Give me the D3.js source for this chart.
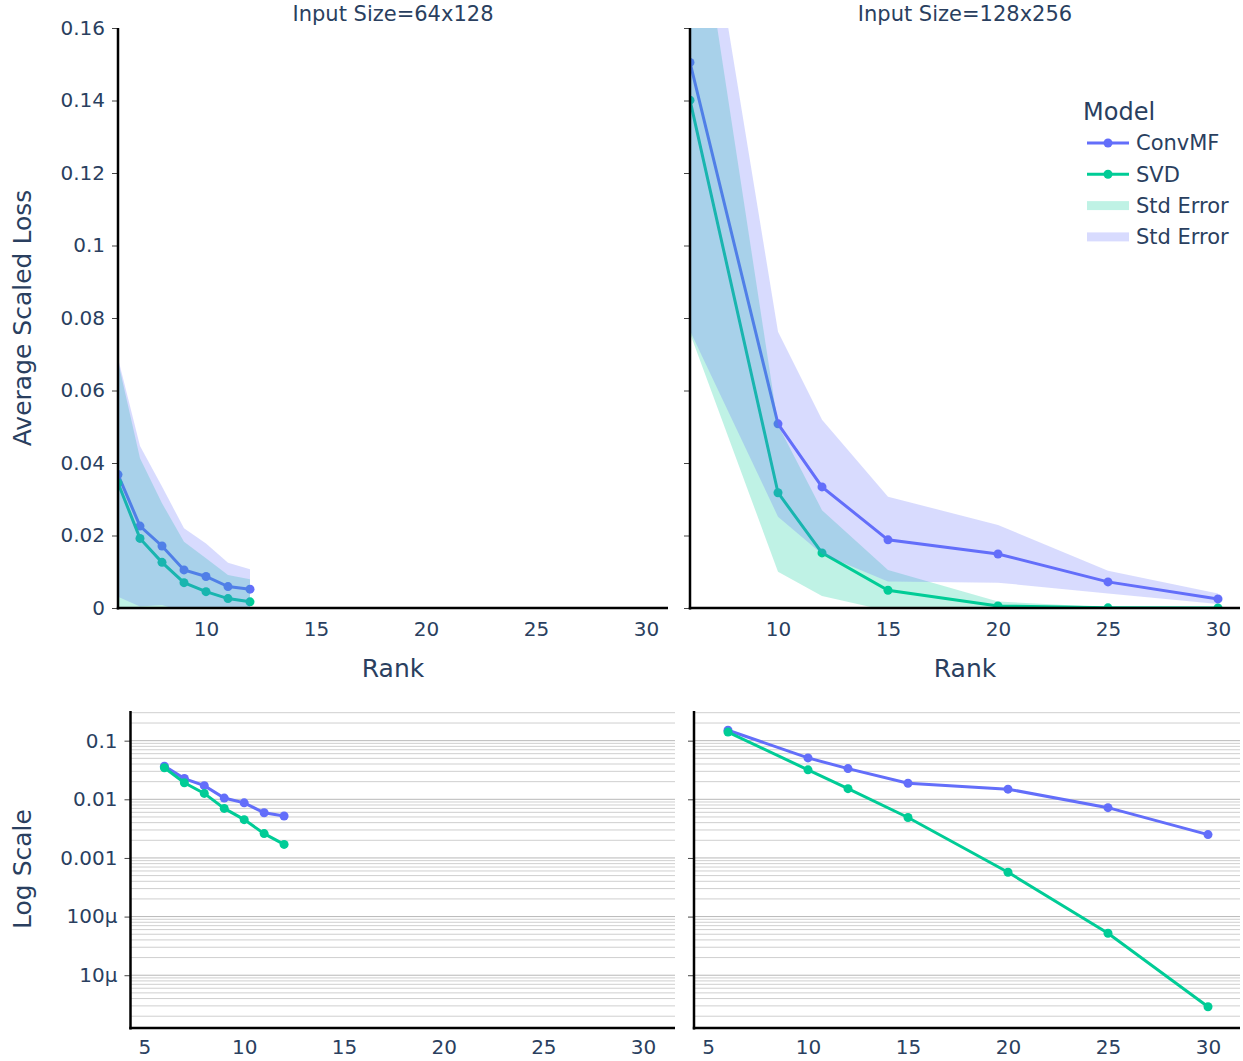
<!DOCTYPE html>
<html>
<head>
<meta charset="utf-8">
<script src="https://cdn.jsdelivr.net/npm/d3@7"></script>
<style>
  body { margin: 0; background: #fff; }
  text { font-family: "DejaVu Sans", Verdana, sans-serif; fill: #2a3f5f; }
</style>
</head>
<body>
<div id="chart"></div>
<script>
// ---- data ----
var ranksSmall = [6, 7, 8, 9, 10, 11, 12];
var convSmall = [0.0368, 0.0226, 0.0171, 0.0105, 0.0087, 0.0059, 0.0052];
var svdSmall = [0.0345, 0.0192, 0.0126, 0.0070, 0.0045, 0.0026, 0.0017];
var convSmallHi = [0.0689, 0.0447, 0.0335, 0.0220, 0.0178, 0.0125, 0.0107];
var convSmallLo = [0.0031, 0.0004, 0.0008, -0.0010, -0.0004, -0.0007, -0.0003];
var svdSmallHi = [0.0680, 0.0413, 0.0289, 0.0183, 0.0137, 0.0091, 0.0079];
var svdSmallLo = [-0.0010, -0.0029, -0.0037, -0.0043, -0.0047, -0.0039, -0.0045];

var ranksBig = [6, 10, 12, 15, 20, 25, 30];
var convBig = [0.1505, 0.0508, 0.0334, 0.0188, 0.0149, 0.0072, 0.0025];
var svdBig = [0.1401, 0.0318, 0.0152, 0.0049, 0.00057, 0.000052, 0.0000029];
var convBigHi = [0.2245, 0.0762, 0.0519, 0.0307, 0.0229, 0.0103, 0.0040];
var convBigLo = [0.0765, 0.0252, 0.0149, 0.0073, 0.0070, 0.0040, 0.0011];
var svdBigHi = [0.2092, 0.0505, 0.0270, 0.0105, 0.0018, 0.0002, 0.00001];
var svdBigLo = [0.0758, 0.0100, 0.0033, -0.0008, -0.0006, -0.0001, -0.00001];

var panelTitles = ['Input Size=64x128', 'Input Size=128x256'];
var linTicks = [0, 0.02, 0.04, 0.06, 0.08, 0.1, 0.12, 0.14, 0.16];
var logTicks = [0.1, 0.01, 0.001, 0.0001, 0.00001];
var logTickLabels = ['0.1', '0.01', '0.001', '100\u03bc', '10\u03bc'];
var rankTicksTop = [10, 15, 20, 25, 30];
var rankTicksBottom = [5, 10, 15, 20, 25, 30];
var legendNames = ['ConvMF', 'SVD', 'Std Error', 'Std Error'];

var convColor = '#636efa',
  svdColor = '#00cc96',
  convFill = 'rgba(99,110,250,0.25)',
  svdFill = 'rgba(0,204,150,0.25)';

var tickFont = 20;

var svg = d3.select('#chart')
  .append('svg')
  .attr('width', 1243)
  .attr('height', 1061);

var topY = d3.scaleLinear().domain([0, 0.16]).range([608, 28]);
var bottomY = d3.scaleLog().domain([Math.pow(10, -5.9), Math.pow(10, -0.494)]).range([1028, 711]);

var panels = [
  { ranks: ranksSmall, conv: convSmall, svd: svdSmall, convHi: convSmallHi, convLo: convSmallLo, svdHi: svdSmallHi, svdLo: svdSmallLo,
    top: [118, 668], bottom: [130.5, 675], labels: true },
  { ranks: ranksBig, conv: convBig, svd: svdBig, convHi: convBigHi, convLo: convBigLo, svdHi: svdBigHi, svdLo: svdBigLo,
    top: [690, 1240], bottom: [694, 1240], labels: false }
];

var lineGen = function (x, y, ranks) {
  return d3.line()
    .x(function (d, i) { return x(ranks[i]); })
    .y(function (d) { return y(d); });
};

var bandGen = function (x, y, ranks, lo) {
  return d3.area()
    .x(function (d, i) { return x(ranks[i]); })
    .y0(function (d, i) { return y(lo[i]); })
    .y1(function (d) { return y(d); });
};

var styleAxis = function (g, fontSize) {
  g.selectAll('.domain').remove();
  g.selectAll('.tick line').attr('stroke', '#444').attr('stroke-width', 1);
  g.selectAll('.tick text')
    .attr('fill', '#2a3f5f')
    .style('font-size', fontSize + 'px')
    .style('font-family', '"DejaVu Sans", Verdana, sans-serif');
};

panels.forEach(function (p, pi) {
  // ---------- top linear panel ----------
  var x = d3.scaleLinear().domain([6, 31]).range(p.top);
  var clipId = 'clipTop' + pi;
  svg.append('clipPath').attr('id', clipId)
    .append('rect')
    .attr('x', p.top[0]).attr('y', 28)
    .attr('width', p.top[1] - p.top[0]).attr('height', 580);

  var plot = svg.append('g').attr('clip-path', 'url(#' + clipId + ')');

  [[p.conv, convColor], [p.svd, svdColor]].forEach(function (s) {
    plot.append('path')
      .attr('d', lineGen(x, topY, p.ranks)(s[0]))
      .attr('fill', 'none')
      .attr('stroke', s[1])
      .attr('stroke-width', 3);
    plot.append('g').selectAll('circle')
      .data(s[0])
      .enter()
      .append('circle')
      .attr('cx', function (d, i) { return x(p.ranks[i]); })
      .attr('cy', function (d) { return topY(d); })
      .attr('r', 4.5)
      .attr('fill', s[1]);
  });

  // bands are drawn over the lines, svd first then convmf
  plot.append('path')
    .attr('d', bandGen(x, topY, p.ranks, p.svdLo)(p.svdHi))
    .attr('fill', svdFill);
  plot.append('path')
    .attr('d', bandGen(x, topY, p.ranks, p.convLo)(p.convHi))
    .attr('fill', convFill);

  var yAx = svg.append('g')
    .attr('transform', 'translate(' + p.top[0] + ',0)')
    .call(d3.axisLeft(topY).tickValues(linTicks).tickSize(6).tickPadding(7)
      .tickFormat(p.labels ? d3.format('~g') : function () { return ''; }));
  styleAxis(yAx, tickFont);

  var xAx = svg.append('g')
    .attr('transform', 'translate(0,608)')
    .call(d3.axisBottom(x).tickValues(rankTicksTop).tickSize(0).tickPadding(14).tickFormat(d3.format('d')));
  styleAxis(xAx, tickFont);

  svg.append('line')
    .attr('x1', p.top[0]).attr('x2', p.top[0])
    .attr('y1', 28).attr('y2', 609.5)
    .attr('stroke', '#000').attr('stroke-width', 2.5);
  svg.append('line')
    .attr('x1', p.top[0] - 1.2).attr('x2', p.top[1])
    .attr('y1', 608).attr('y2', 608)
    .attr('stroke', '#000').attr('stroke-width', 2.5);

  svg.append('text')
    .attr('x', (p.top[0] + p.top[1]) / 2)
    .attr('y', 14)
    .attr('dy', '0.35em')
    .attr('text-anchor', 'middle')
    .style('font-size', '21px')
    .text(panelTitles[pi]);

  svg.append('text')
    .attr('x', (p.top[0] + p.top[1]) / 2)
    .attr('y', 668)
    .attr('dy', '0.35em')
    .attr('text-anchor', 'middle')
    .style('font-size', '25px')
    .text('Rank');

  // ---------- bottom log panel ----------
  var xb = d3.scaleLinear().domain([4.3, 31.6]).range(p.bottom);
  var grid = svg.append('g');
  for (var k = -6; k <= 0; k++) {
    for (var m = 1; m <= 9; m++) {
      var v = m * Math.pow(10, k);
      if (v < bottomY.domain()[0] || v > bottomY.domain()[1]) continue;
      grid.append('line')
        .attr('x1', p.bottom[0]).attr('x2', p.bottom[1])
        .attr('y1', bottomY(v)).attr('y2', bottomY(v))
        .attr('stroke', m === 1 ? '#b8b8b8' : '#cfcfcf')
        .attr('stroke-width', 1);
    }
  }

  var plotB = svg.append('g');
  [[p.conv, convColor], [p.svd, svdColor]].forEach(function (s) {
    plotB.append('path')
      .attr('d', lineGen(xb, bottomY, p.ranks)(s[0]))
      .attr('fill', 'none')
      .attr('stroke', s[1])
      .attr('stroke-width', 3);
    plotB.append('g').selectAll('circle')
      .data(s[0])
      .enter()
      .append('circle')
      .attr('cx', function (d, i) { return xb(p.ranks[i]); })
      .attr('cy', function (d) { return bottomY(d); })
      .attr('r', 4.5)
      .attr('fill', s[1]);
  });

  var yAxB = svg.append('g')
    .attr('transform', 'translate(' + p.bottom[0] + ',0)')
    .call(d3.axisLeft(bottomY).tickValues(logTicks).tickSize(6).tickPadding(7)
      .tickFormat(function (d, i) { return p.labels ? logTickLabels[i] : ''; }));
  styleAxis(yAxB, tickFont);

  var xAxB = svg.append('g')
    .attr('transform', 'translate(0,1028)')
    .call(d3.axisBottom(xb).tickValues(rankTicksBottom).tickSize(0).tickPadding(12).tickFormat(d3.format('d')));
  styleAxis(xAxB, tickFont);

  svg.append('line')
    .attr('x1', p.bottom[0]).attr('x2', p.bottom[0])
    .attr('y1', 711).attr('y2', 1029.5)
    .attr('stroke', '#000').attr('stroke-width', 2.5);
  svg.append('line')
    .attr('x1', p.bottom[0] - 1.2).attr('x2', p.bottom[1])
    .attr('y1', 1028).attr('y2', 1028)
    .attr('stroke', '#000').attr('stroke-width', 2.5);
});

// axis titles
svg.append('text')
  .attr('transform', 'translate(22,318) rotate(-90)')
  .attr('dy', '0.35em')
  .attr('text-anchor', 'middle')
  .style('font-size', '25px')
  .text('Average Scaled Loss');

svg.append('text')
  .attr('transform', 'translate(22,869) rotate(-90)')
  .attr('dy', '0.35em')
  .attr('text-anchor', 'middle')
  .style('font-size', '25px')
  .text('Log Scale');

// legend
var legend = svg.append('g').attr('transform', 'translate(1083,0)');
legend.append('text')
  .attr('x', 0).attr('y', 112)
  .attr('dy', '0.35em')
  .style('font-size', '24px')
  .text('Model');

var legendRows = [
  { kind: 'line', color: convColor },
  { kind: 'line', color: svdColor },
  { kind: 'fill', color: svdFill },
  { kind: 'fill', color: convFill }
];

legend.selectAll('g.item')
  .data(legendRows)
  .enter()
  .append('g')
  .attr('class', 'item')
  .attr('transform', function (d, i) { return 'translate(0,' + (143 + i * 31.3) + ')'; })
  .each(function (d, i) {
    var row = d3.select(this);
    if (d.kind === 'line') {
      row.append('line')
        .attr('x1', 4).attr('x2', 46).attr('y1', 0).attr('y2', 0)
        .attr('stroke', d.color).attr('stroke-width', 3);
      row.append('circle').attr('cx', 25).attr('cy', 0).attr('r', 4.5).attr('fill', d.color);
    } else {
      row.append('rect')
        .attr('x', 4).attr('y', -4.5).attr('width', 42).attr('height', 9)
        .attr('fill', d.color);
    }
    row.append('text')
      .attr('x', 53).attr('y', 0)
      .attr('dy', '0.35em')
      .style('font-size', '21px')
      .text(legendNames[i]);
  });
</script>
</body>
</html>
